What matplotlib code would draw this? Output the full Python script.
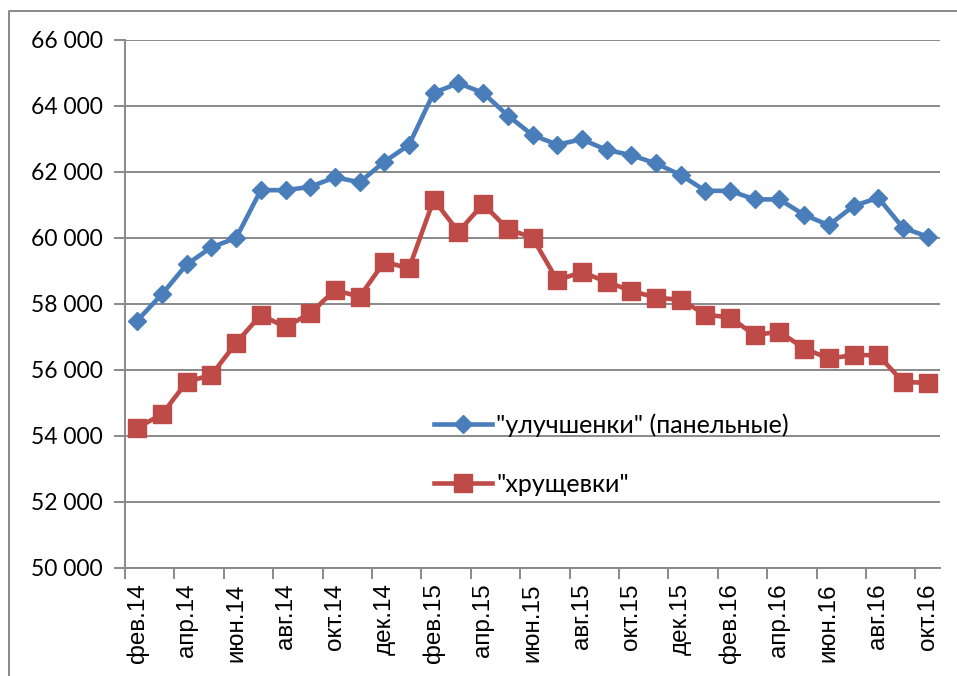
import numpy as np
import matplotlib.pyplot as plt
from matplotlib.lines import Line2D

months = ["фев", "мар", "апр", "май", "июн", "июл", "авг", "сен", "окт", "ноя", "дек", "янв"]
labels = []
for i in range(33):
    m = (1 + i) % 12
    y = 14 + (1 + i) // 12
    labels.append(f"{months[(m - 1) % 12]}.{y}")

improved = [57500, 58300, 59200, 59720, 60000, 61450, 61450, 61550, 61840, 61690,
            62310, 62820, 64400, 64690, 64400, 63710, 63120, 62830, 62990, 62670,
            62510, 62260, 61910, 61430, 61430, 61170, 61170, 60700, 60390, 60970,
            61220, 60310, 60040]
khrush = [54250, 54660, 55640, 55850, 56820, 57670, 57300, 57720, 58420, 58220,
          59280, 59080, 61160, 60190, 61030, 60270, 60010, 58720, 58970, 58670,
          58400, 58190, 58130, 57680, 57590, 57060, 57160, 56650, 56350, 56450,
          56450, 55640, 55610]

blue = "#4A7EBB"
red = "#BE4B48"
grid_c = "#898989"

fig = plt.figure(figsize=(9.57, 6.76), dpi=100)
ax = fig.add_axes([125 / 957, 1 - 568 / 676, 815 / 957, 528 / 676])

x = np.arange(len(labels))
ax.plot(x, improved, color=blue, lw=3.3, marker="D", ms=9.5, mec=blue, mfc=blue,
        label='"улучшенки" (панельные)', zorder=3)
ax.plot(x, khrush, color=red, lw=3.3, marker="s", ms=13, mec=red, mfc=red,
        label='"хрущевки"', zorder=3)

ax.set_xlim(-0.5, len(labels) - 0.5)
ax.set_ylim(50000, 66000)
ax.set_yticks(np.arange(50000, 66001, 2000))
ax.set_yticklabels([f"{v // 1000} 000" for v in range(50000, 66001, 2000)],
                   fontfamily="Lato", fontsize=16.5)
ax.yaxis.grid(True, color=grid_c, lw=1.4)
ax.set_axisbelow(True)

ax.set_xticks(x[::2])
ax.set_xticklabels(labels[::2], rotation=90, fontfamily="Liberation Sans", fontsize=17.5)
ax.set_xticks(np.arange(-0.5, len(labels), 2), minor=True)
ax.tick_params(axis="x", which="major", length=0, pad=11)
ax.tick_params(axis="x", which="minor", length=8, color=grid_c, width=1.4)
ax.tick_params(axis="y", length=8, color=grid_c, width=1.4, pad=8)

for s in ["top", "right"]:
    ax.spines[s].set_visible(False)
for s in ["left", "bottom"]:
    ax.spines[s].set_color(grid_c)
    ax.spines[s].set_linewidth(1.4)

ax.legend(loc="upper left", bbox_to_anchor=(434 / 957, 1 - 413 / 676),
          bbox_transform=fig.transFigure, frameon=False, prop={"family": "Lato", "size": 18},
          handlelength=2.3, handletextpad=0.2, labelspacing=1.45, borderpad=0,
          borderaxespad=0)

fig.add_artist(Line2D([8.5 / 957, 8.5 / 957, 1], [0, 1 - 10.5 / 676, 1 - 10.5 / 676],
                      transform=fig.transFigure, color=grid_c, lw=1.4))

fig.savefig("out.png", dpi=100)
